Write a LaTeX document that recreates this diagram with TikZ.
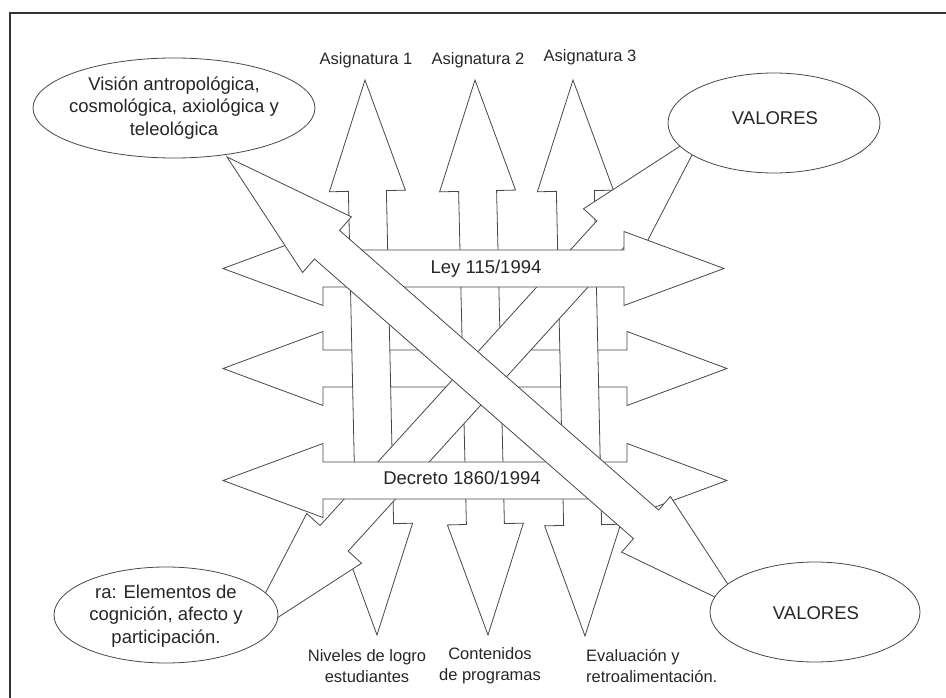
\documentclass[tikz,border=0pt]{standalone}
\usepackage{fontspec}
\setmainfont{Liberation Sans}
\usetikzlibrary{calc,shapes.geometric}
\tikzset{
    fleche/.style={draw=black!72, fill=white, line width=0.8pt},
    bulle/.style={ellipse, draw=black!72, fill=white, line width=0.8pt, inner sep=0pt},
    texte/.style={font=\fontsize{18.5}{22.5}\selectfont, text=black!85, align=center, inner sep=0pt},
    etiquette/.style={font=\fontsize{16.5}{21}\selectfont, text=black!85, align=center, inner sep=0pt},
  }
% fleche double : #1 et #2 pointes, #3 longueur tete, #4 demi-largeur tete, #5 demi-largeur corps
\newcommand{\flechedouble}[5]{%
  \path ($(#1)!#3!(#2)$) coordinate (ba)
        ($(#2)!#3!(#1)$) coordinate (bb);
  \filldraw[fleche] (#1)
    -- ($(ba)!#4!90:(#1)$) -- ($(ba)!#5!90:(#1)$)
    -- ($(bb)!#5!-90:(#2)$) -- ($(bb)!#4!-90:(#2)$)
    -- (#2)
    -- ($(bb)!#4!90:(#2)$) -- ($(bb)!#5!90:(#2)$)
    -- ($(ba)!#5!-90:(#1)$) -- ($(ba)!#4!-90:(#1)$)
    -- cycle;
}

\begin{document}
\begin{tikzpicture}[x=1pt,y=-1pt]
				  \useasboundingbox (0,0) rectangle (946,698);
				  %cadre
				  \draw[black!80, line width=1.3pt] (946,13) -- (10,13) -- (10,698);
				  %lignes
				  \coordinate(LA) at (223,268.5);
				  \coordinate(RA) at (724,268.5);
				  \coordinate(LB) at (223,368.5);
				  \coordinate(RB) at (727,368.5);
				  \coordinate(LC) at (223,480.5);
				  \coordinate(RC) at (727,480.5);
				  %colonnes
				  \coordinate(H1) at (365,80);
				  \coordinate(B1) at (377,635);
				  \coordinate(H2) at (475,80);
				  \coordinate(B2) at (488,635);
				  \coordinate(H3) at (573,80);
				  \coordinate(B3) at (585,636);
				  %diagonales
				  \coordinate(D1) at (227,157);
				  \coordinate(D2) at (746,612);
				  \coordinate(E1) at (240,642);
				  \coordinate(E2) at (705,130);
				  
				  \flechedouble{LB}{RB}{100pt}{37pt}{18.5pt}
				  \flechedouble{H1}{B1}{111pt}{38pt}{19pt}
				  \flechedouble{H2}{B2}{111pt}{38pt}{19pt}
				  \flechedouble{H3}{B3}{111pt}{38pt}{19pt}
				  \flechedouble{E1}{E2}{140pt}{37pt}{19pt}
				  \flechedouble{LA}{RA}{100pt}{37pt}{18.5pt}
				  \flechedouble{LC}{RC}{100pt}{37pt}{18.5pt}
				  \flechedouble{D1}{D2}{133pt}{37pt}{19pt}
				  
				  \node[texte] (ley) at (486,269) {Ley 115/1994};
				  \node[texte] (decreto) at (462,478) {Decreto 1860/1994};
				  
				  \node[bulle, minimum width=282pt, minimum height=100pt] (vision) at (174,108) {};
				  \node[texte] (tvision) at (vision.center) {Visión antropológica,\\cosmológica, axiológica y\\teleológica};
				  \node[bulle, minimum width=212pt, minimum height=100pt] (valhaut) at (774,123) {};
				  \node[texte] (tvalhaut) at (775,118) {VALORES};
				  \node[bulle, minimum width=210pt, minimum height=100pt] (valbas) at (815,612) {};
				  \node[texte] (tvalbas) at (816,613) {VALORES};
				  \node[bulle, minimum width=224pt, minimum height=96pt] (elem) at (166,615) {};
				  \node[texte] (telem) at (166,616) {ra: Elementos de\\cognición, afecto y\\participación.};
				  
				  \node[etiquette] (asig1) at (366,60) {Asignatura 1};
				  \node[etiquette] (asig2) at (478,60) {Asignatura 2};
				  \node[etiquette] (asig3) at (590,57) {Asignatura 3};
				  \node[etiquette] (niveles) at (367,666) {Niveles de logro\\estudiantes};
				  \node[etiquette] (contenidos) at (490,666) {Contenidos\\de programas};
				  \node[etiquette, align=left, anchor=west] (evaluacion) at (586,666) {Evaluación y\\retroalimentación.};
\end{tikzpicture}
\end{document}
